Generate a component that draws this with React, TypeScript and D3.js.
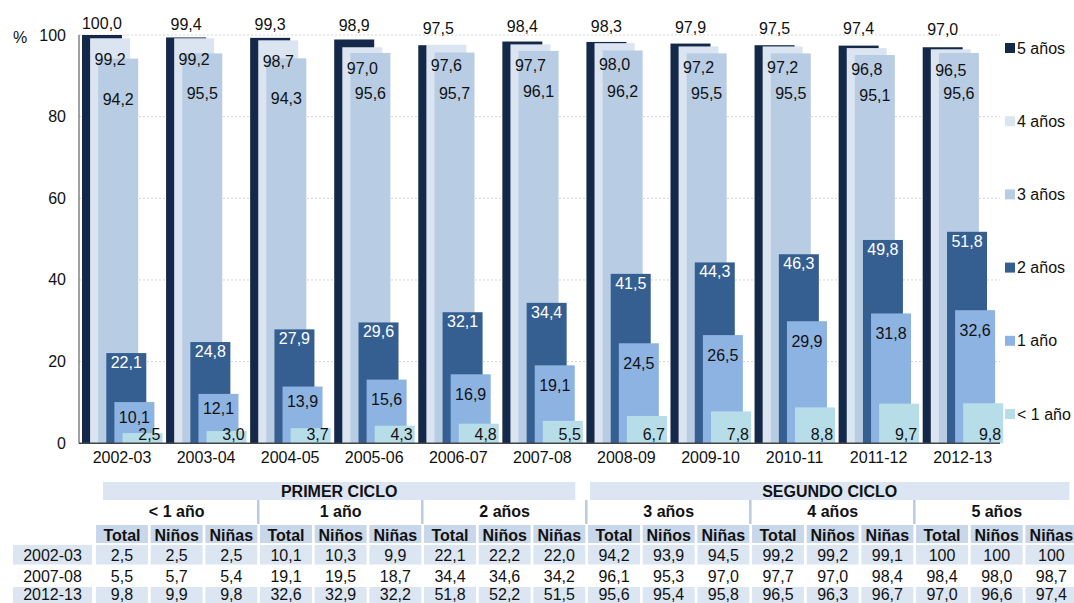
import React from "react";
import * as d3 from "d3";

// curso escolar
const cursos = ["2002-03", "2003-04", "2004-05", "2005-06", "2006-07", "2007-08", "2008-09", "2009-10", "2010-11", "2011-12", "2012-13"];

// tasas de escolarización por edad (%)
const cinco = [100.0, 99.4, 99.3, 98.9, 97.5, 98.4, 98.3, 97.9, 97.5, 97.4, 97.0];
const cuatro = [99.2, 99.2, 98.7, 97.0, 97.6, 97.7, 98.0, 97.2, 97.2, 96.8, 96.5];
const tres = [94.2, 95.5, 94.3, 95.6, 95.7, 96.1, 96.2, 95.5, 95.5, 95.1, 95.6];
const dos = [22.1, 24.8, 27.9, 29.6, 32.1, 34.4, 41.5, 44.3, 46.3, 49.8, 51.8];
const uno = [10.1, 12.1, 13.9, 15.6, 16.9, 19.1, 24.5, 26.5, 29.9, 31.8, 32.6];
const menosUno = [2.5, 3.0, 3.7, 4.3, 4.8, 5.5, 6.7, 7.8, 8.8, 9.7, 9.8];

const yTicks = [0, 20, 40, 60, 80, 100];

// tabla inferior
const tablaCursos = ["2002-03", "2007-08", "2012-13"];
const ciclos = ["PRIMER CICLO", "SEGUNDO CICLO"];
const edades = ["< 1 año", "1 año", "2 años", "3 años", "4 años", "5 años"];
const subCols = ["Total", "Niños", "Niñas"];
const tablaValores = [
  ["2,5", "2,5", "2,5", "10,1", "10,3", "9,9", "22,1", "22,2", "22,0", "94,2", "93,9", "94,5", "99,2", "99,2", "99,1", "100", "100", "100"],
  ["5,5", "5,7", "5,4", "19,1", "19,5", "18,7", "34,4", "34,6", "34,2", "96,1", "95,3", "97,0", "97,7", "97,0", "98,4", "98,4", "98,0", "98,7"],
  ["9,8", "9,9", "9,8", "32,6", "32,9", "32,2", "51,8", "52,2", "51,5", "95,6", "95,4", "95,8", "96,5", "96,3", "96,7", "97,0", "96,6", "97,4"],
];

const FONT = "'Liberation Sans', Arial, sans-serif";
const fmt = (v: number) => v.toFixed(1).replace(".", ",");

const series = [
  { name: "5 años", values: cinco, color: "#14284a" },
  { name: "4 años", values: cuatro, color: "#dbe5f1" },
  { name: "3 años", values: tres, color: "#b8cce4" },
  { name: "2 años", values: dos, color: "#365f91" },
  { name: "1 año", values: uno, color: "#8db3e2" },
  { name: "< 1 año", values: menosUno, color: "#b7dee8" },
];

export default function App() {
  const W = 1074, H = 603;
  const x = d3.scaleBand<string>().domain(cursos).range([82, 82 + 11 * 84.07]);
  const y = d3.scaleLinear().domain([0, 100]).range([443.3, 35]);
  const off = 8.1, bw = 40;
  const plotL = 79, plotR = 1000;

  // etiqueta según la serie
  const labelPos = (k: number, v: number, x0: number) => {
    const top = y(v);
    const cx = x0 + k * off + bw / 2;
    if (k === 0) return { x: cx, y: (top + y(100)) / 2 - 6, anchor: "middle", fill: "#111" };
    if (k === 1) return { x: cx, y: top + 26.5, anchor: "middle", fill: "#111" };
    if (k === 2) return { x: cx, y: top + 46, anchor: "middle", fill: "#111" };
    if (k === 3) return { x: cx, y: top + 15, anchor: "middle", fill: "#fff" };
    if (k === 4) return { x: cx, y: top + (v < 15 ? 20.5 : 25.5), anchor: "middle", fill: "#111" };
    return { x: x0 + k * off + bw - 2, y: 440, anchor: "end", fill: "#111" };
  };

  // tabla
  const cx = d3.scaleBand<number>().domain(d3.range(18)).range([96, 96 + 18 * 54.67 - 2.7]).paddingInner(0.05);
  const cw = cx.bandwidth();
  const rowY = [545, 566, 587];
  const rowH = 19.5;
  const rowBase = [561, 582, 600];

  return (
    <svg width={W} height={H} style={{ position: "absolute", left: 0, top: 0, background: "#fff" }} fontFamily={FONT}>
      {/* rejilla */}
      {yTicks.filter((t) => t > 0).map((t) => (
        <line key={t} x1={plotL} x2={plotR} y1={y(t)} y2={y(t)} stroke="#d4d4d4" strokeDasharray="2,2" />
      ))}
      {/* barras */}
      {cursos.map((c, i) => {
        const x0 = x(c)!;
        return (
          <g key={c}>
            {series.map((s, k) => (
              <rect key={s.name} x={x0 + k * off} y={y(s.values[i])} width={bw} height={y(0) - y(s.values[i])} fill={s.color} />
            ))}
            {series.map((s, k) => {
              const p = labelPos(k, s.values[i], x0);
              return (
                <text key={s.name} x={p.x} y={p.y} textAnchor={p.anchor} fontSize={16} fill={p.fill}>
                  {fmt(s.values[i])}
                </text>
              );
            })}
            <text x={x0 + 40} y={462.5} textAnchor="middle" fontSize={16} fill="#111">{c}</text>
          </g>
        );
      })}
      {/* ejes */}
      <line x1={plotL} x2={plotL} y1={y(100)} y2={y(0)} stroke="#444" />
      <line x1={plotL} x2={plotR} y1={y(0)} y2={y(0)} stroke="#444" strokeWidth={1.5} />
      {yTicks.map((t) => (
        <text key={t} x={66} y={y(t) + 5.5} textAnchor="end" fontSize={16} fill="#111">{t}</text>
      ))}
      <text x={13} y={42.5} fontSize={16} fill="#111">%</text>
      {/* leyenda */}
      {series.map((s, k) => {
        const ly = 48 + k * 73.2;
        return (
          <g key={s.name}>
            <rect x={1005} y={ly - 5} width={10} height={10} fill={s.color} />
            <text x={1017} y={ly + 5.5} fontSize={16} fill="#111">{s.name}</text>
          </g>
        );
      })}

      {/* tabla: ciclos */}
      {ciclos.map((n, g) => {
        const x1 = g === 0 ? cx(0)! + 7 : cx(9)! + 2;
        const x2 = g === 0 ? cx(8)! + cw - 10 : cx(17)! + cw - 8;
        return (
          <g key={n}>
            <rect x={x1} y={482} width={x2 - x1} height={18} fill="#dce6f2" />
            <text x={(x1 + x2) / 2} y={497} textAnchor="middle" fontSize={16} fontWeight="bold" fill="#111">{n}</text>
          </g>
        );
      })}
      {/* edades */}
      {edades.map((e, g) => {
        const x1 = cx(g * 3)!;
        const x2 = cx(g * 3 + 2)! + cw;
        return (
          <g key={e}>
            {g > 0 && <rect x={x1 - 3} y={500} width={2.5} height={24} fill="#b8cce4" />}
            <text x={(x1 + x2) / 2} y={517} textAnchor="middle" fontSize={16} fontWeight="bold" fill="#111">{e}</text>
          </g>
        );
      })}
      {/* subcabecera */}
      {d3.range(18).map((j) => (
        <g key={j}>
          <rect x={cx(j)} y={525} width={cw} height={18} fill="#c8d7ea" />
          <text x={cx(j)! + cw / 2} y={540.5} textAnchor="middle" fontSize={16} fontWeight="bold" fill="#111">{subCols[j % 3]}</text>
        </g>
      ))}
      {/* filas */}
      {tablaCursos.map((c, r) => (
        <g key={c}>
          {r !== 1 && <rect x={13} y={rowY[r]} width={79} height={rowH} fill="#dce6f2" />}
          <text x={52.5} y={rowBase[r]} textAnchor="middle" fontSize={16} fill="#111">{c}</text>
          {tablaValores[r].map((v, j) => (
            <g key={j}>
              {r !== 1 && <rect x={cx(j)} y={rowY[r]} width={cw} height={rowH} fill="#dce6f2" />}
              <text x={cx(j)! + cw / 2} y={rowBase[r]} textAnchor="middle" fontSize={16} fill="#111">{v}</text>
            </g>
          ))}
        </g>
      ))}
    </svg>
  );
}
